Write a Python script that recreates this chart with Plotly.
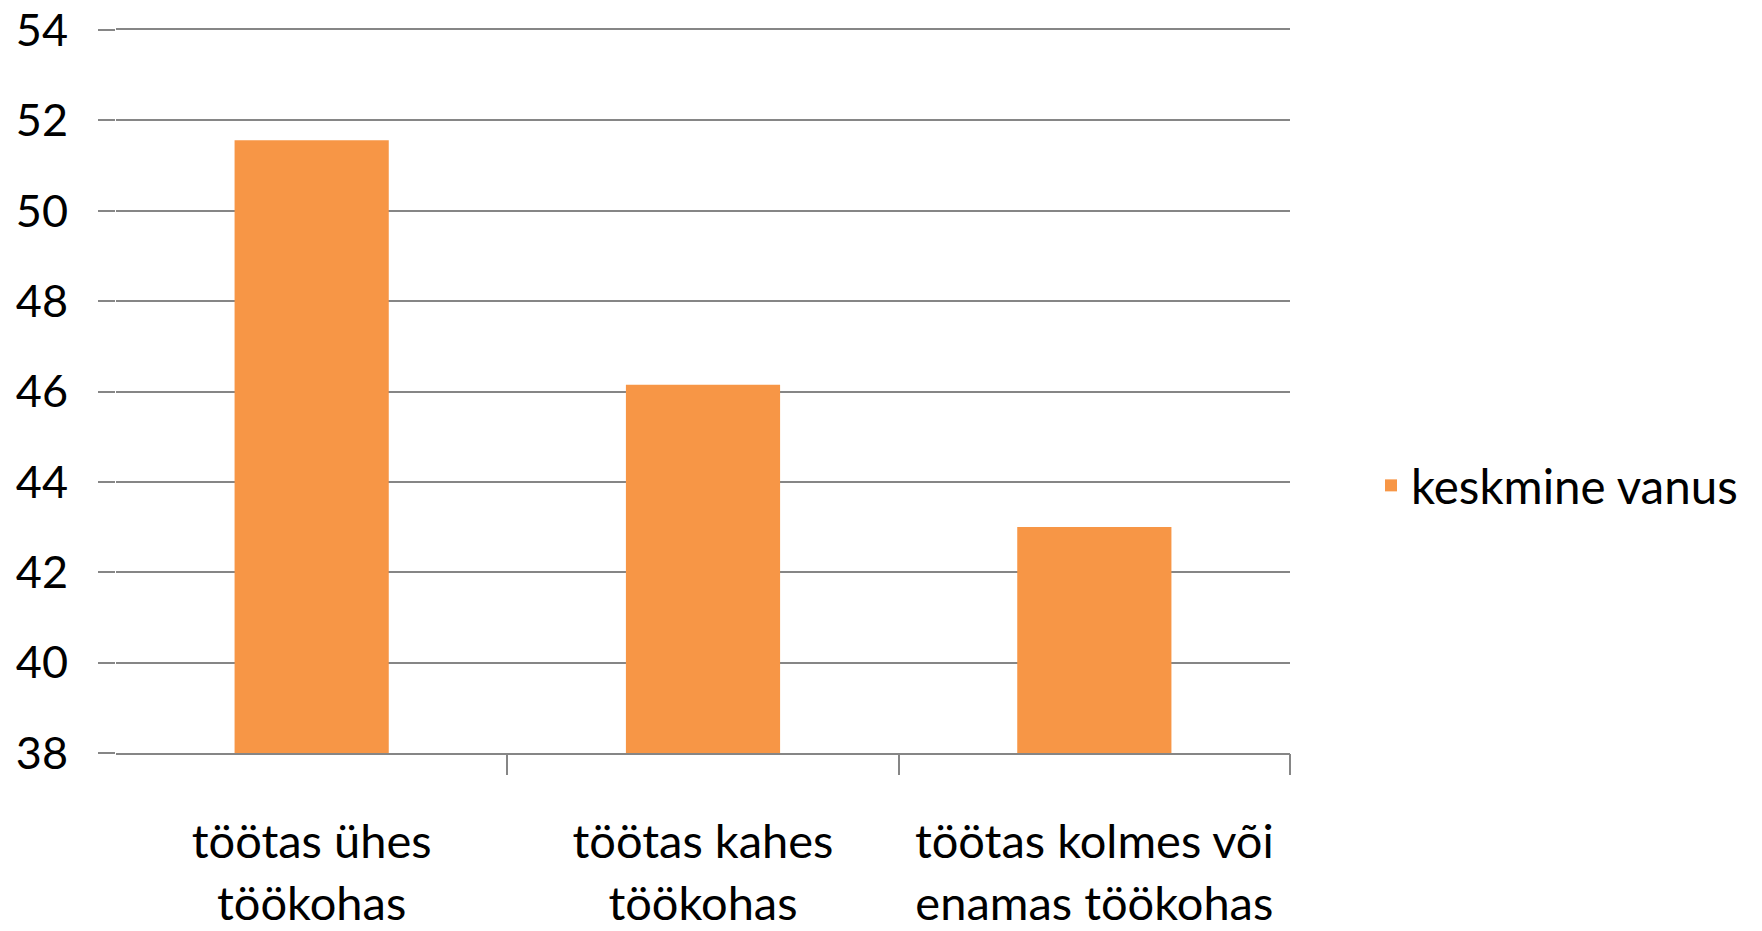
import plotly.graph_objects as go

categories = ["töötas ühes<br>töökohas", "töötas kahes<br>töökohas", "töötas kolmes või<br>enamas töökohas"]
values = [51.56, 46.15, 43.0]
series_name = "keskmine vanus"
y_ticks = [38, 40, 42, 44, 46, 48, 50, 52, 54]

BAR = "#F79646"
GRID = "#868686"
FONT = "Lato, Liberation Sans, Arial, sans-serif"

fig = go.Figure()
fig.add_trace(go.Bar(x=categories, y=values, name=series_name, marker=dict(color=BAR, line=dict(width=0)),
                     showlegend=True))
# boundary tick marks between categories (invisible helper trace on overlay axis)
fig.add_trace(go.Scatter(x=[-0.5, len(categories) - 0.5], y=[y_ticks[0], y_ticks[0]], xaxis="x2",
                         mode="lines", line=dict(width=0), hoverinfo="skip", showlegend=False))

fig.update_layout(
    width=1754, height=923,
    margin=dict(l=108, r=472, t=22, b=178, autoexpand=False),
    paper_bgcolor="white", plot_bgcolor="white",
    font=dict(family=FONT, size=47, color="black"),
    bargap=0.606,
    xaxis=dict(type="category", showgrid=False, showline=True, linecolor=GRID, linewidth=2,
               mirror=True, automargin=False, ticklabeloverflow="allow",
               ticks="", ticklabelstandoff=47, tickfont=dict(size=47)),
    xaxis2=dict(overlaying="x", side="bottom", range=[-0.5, len(categories) - 0.5], automargin=False,
                tickvals=[i + 0.5 for i in range(len(categories))], ticks="outside", ticklen=21,
                tickwidth=2, tickcolor=GRID, showticklabels=False, showgrid=False, zeroline=False,
                showline=False),
    yaxis=dict(range=[y_ticks[0], y_ticks[-1]], tickvals=y_ticks, showgrid=True, gridcolor=GRID,
               gridwidth=2, zeroline=False, showline=False, ticks="outside", ticklen=17, automargin=False,
               tickwidth=2, tickcolor=GRID, ticklabelstandoff=21, ticklabeloverflow="allow",
               tickfont=dict(size=45)),
    legend=dict(x=1.069, xanchor="left", y=0.37, yanchor="middle", font=dict(size=47.5),
                bgcolor="rgba(0,0,0,0)"),
)

fig.write_html("out.html")
